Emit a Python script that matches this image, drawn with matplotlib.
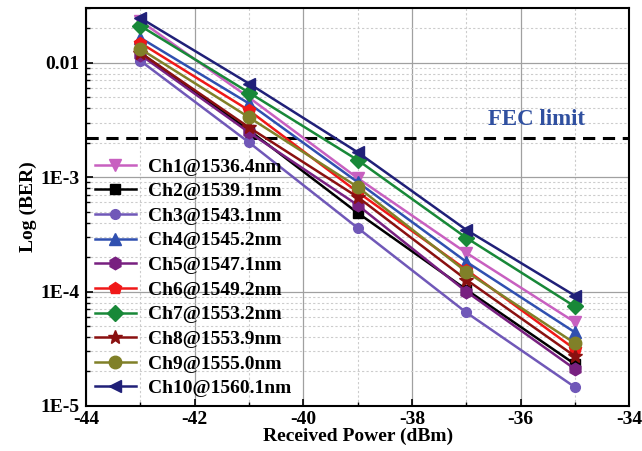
import matplotlib.pyplot as plt
from matplotlib.ticker import FixedLocator, LogLocator, NullFormatter
import numpy as np

#-- received power (dBm)
power = [-43, -41, -39, -37, -35]

#-- BER per channel
ch1  = [2.32e-2, 4.96e-3, 9.8e-4, 2.18e-4, 5.4e-5]
ch2  = [1.22e-2, 2.57e-3, 4.87e-4, 1.04e-4, 2.32e-5]
ch3  = [1.04e-2, 2.01e-3, 3.6e-4, 6.56e-5, 1.46e-5]
ch4  = [1.65e-2, 4.4e-3, 9.05e-4, 1.82e-4, 4.4e-5]
ch5  = [1.17e-2, 2.46e-3, 5.7e-4, 1.0e-4, 2.1e-5]
ch6  = [1.49e-2, 3.83e-3, 7.4e-4, 1.55e-4, 3.13e-5]
ch7  = [2.1e-2, 5.48e-3, 1.41e-3, 2.95e-4, 7.4e-5]
ch8  = [1.22e-2, 2.72e-3, 6.7e-4, 1.27e-4, 2.72e-5]
ch9  = [1.32e-2, 3.33e-3, 8.2e-4, 1.49e-4, 3.53e-5]
ch10 = [2.46e-2, 6.57e-3, 1.65e-3, 3.46e-4, 9.2e-5]

labels = ['Ch1@1536.4nm', 'Ch2@1539.1nm', 'Ch3@1543.1nm', 'Ch4@1545.2nm',
          'Ch5@1547.1nm', 'Ch6@1549.2nm', 'Ch7@1553.2nm', 'Ch8@1553.9nm',
          'Ch9@1555.0nm', 'Ch10@1560.1nm']
fec = 2.2e-3

series  = [ch1, ch2, ch3, ch4, ch5, ch6, ch7, ch8, ch9, ch10]
colors  = ['#C860C0', '#000000', '#7058B8', '#3050B0', '#782080',
           '#F01818', '#188838', '#8A1010', '#808028', '#202078']
markers = ['v', 's', 'o', '^', 'h', 'p', 'D', '*', 'o', '<']
msizes  = [9, 7, 7, 9, 9, 9, 8, 10, 9, 9]

plt.rcParams['font.family'] = 'Liberation Serif'
plt.rcParams['font.weight'] = 'bold'
plt.rcParams['axes.unicode_minus'] = False

fig = plt.figure(figsize=(6.42, 4.51), dpi=100)
ax  = fig.add_axes([0.134, 0.100, 0.846, 0.882])

for y, c, m, s, lab in zip(series, colors, markers, msizes, labels):
    ax.plot(power, y, color=c, marker=m, markersize=s, linewidth=1.8,
            label=lab, zorder=3)

#-- FEC limit
ax.axhline(fec, color='black', linestyle=(0, (4, 2.5)), linewidth=2.2, zorder=2)
ax.text(-35.7, 2.6e-3, 'FEC limit', color='#3050A0', fontsize=16.5,
        fontweight='bold', ha='center', va='bottom')

ax.set_yscale('log')
ax.set_xlim(-44, -34)
ax.set_ylim(1e-5, 0.03)

ax.set_xticks(np.arange(-44, -33, 2))
ax.xaxis.set_minor_locator(FixedLocator(np.arange(-43, -34, 2)))
ax.set_yticks([1e-5, 1e-4, 1e-3, 1e-2])
ax.set_yticklabels(['1E-5', '1E-4', '1E-3', '0.01'])
ax.yaxis.set_minor_locator(LogLocator(base=10, subs=np.arange(2, 10)))
ax.yaxis.set_minor_formatter(NullFormatter())

ax.tick_params(which='both', direction='in', labelsize=14)
ax.tick_params(which='major', length=5, width=1.2)
ax.tick_params(which='minor', length=3, width=1)
ax.tick_params(axis='y', pad=5)

ax.grid(which='major', color='#A0A0A0', linestyle='-', linewidth=0.9)
ax.grid(which='minor', color='#CCCCCC', linestyle=(0, (2, 2)), linewidth=0.8)
ax.set_axisbelow(True)
for sp in ax.spines.values():
    sp.set_linewidth(1.5)

ax.set_xlabel('Received Power (dBm)', fontsize=14, fontweight='bold', labelpad=0)
ax.set_ylabel('Log (BER)', fontsize=14, fontweight='bold', labelpad=2)

ax.legend(loc='lower left', frameon=False, fontsize=14, handlelength=2.1,
          labelspacing=0.36, borderaxespad=0.15, handletextpad=0.65,
          borderpad=0.3, bbox_to_anchor=(0.0, 0.0))

plt.savefig('out.png', dpi=100)
